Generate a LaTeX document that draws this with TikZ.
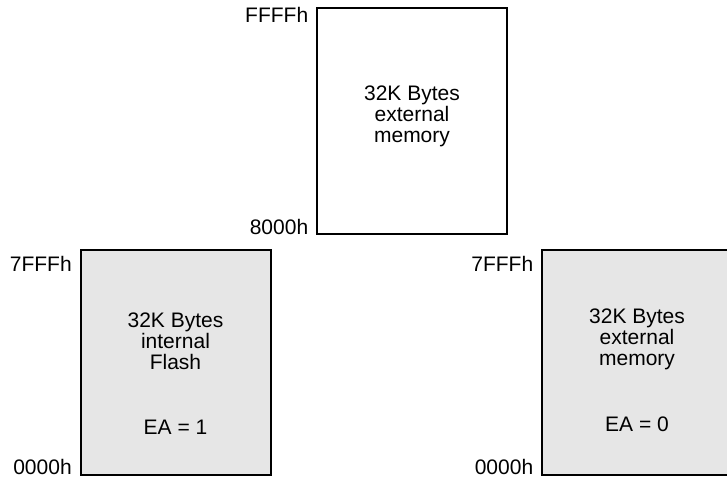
\documentclass[tikz,border=0pt]{standalone}
\usepackage{fontspec}
\setmainfont{Liberation Sans}
\usepackage{tikz}
\usetikzlibrary{positioning}
\definecolor{memfill}{HTML}{E6E6E6}

\begin{document}
\begin{tikzpicture}[
    x=0.5pt, y=-0.5pt,
    membox/.style={draw, line width=1pt, minimum width=95pt, minimum height=112.5pt, inner sep=0pt, fill=#1},
    membox/.default=white,
    memtext/.style={font=\fontsize{10.5}{10.5}\selectfont, align=center, inner sep=0pt},
    addr/.style={font=\fontsize{10.5}{10.5}\selectfont, inner sep=0pt},
]
    \useasboundingbox (0,0) rectangle (727,476);
    \clip (0,0) rectangle (727,476);

    % External memory (upper half)
    \node[membox] (upper) at (412,121) {};
    \node[memtext] (uppertxt) at (412,116) {32K Bytes\\external\\memory};
    \node[addr, anchor=north east] (ffff) at ([xshift=-3.7pt, yshift=0.5pt]upper.north west) {FFFFh};
    \node[addr, anchor=base east] (h8000) at ([xshift=-3.7pt]upper.south west) {8000h};

    % Internal flash, EA = 1
    \node[membox=memfill] (flash) at (175.5,362.5) {};
    \node[memtext] (flashtxt) at (175.5,341) {32K Bytes\\internal\\Flash};
    \node[memtext] (ea1) at (175.5,427) {EA = 1};
    \node[addr, anchor=north east] (lowtop) at ([xshift=-3.7pt, yshift=-3.5pt]flash.north west) {7FFFh};
    \node[addr, anchor=base east] (lowbot) at ([xshift=-3.7pt, yshift=1pt]flash.south west) {0000h};

    % External memory, EA = 0
    \node[membox=memfill] (extlow) at (637,362.5) {};
    \node[memtext] (extlowtxt) at (637,339) {32K Bytes\\external\\memory};
    \node[memtext] (ea0) at (637,424) {EA = 0};
    \node[addr, anchor=north east] (exttop) at ([xshift=-3.7pt, yshift=-3.5pt]extlow.north west) {7FFFh};
    \node[addr, anchor=base east] (extbot) at ([xshift=-3.7pt, yshift=1pt]extlow.south west) {0000h};
\end{tikzpicture}
\end{document}
